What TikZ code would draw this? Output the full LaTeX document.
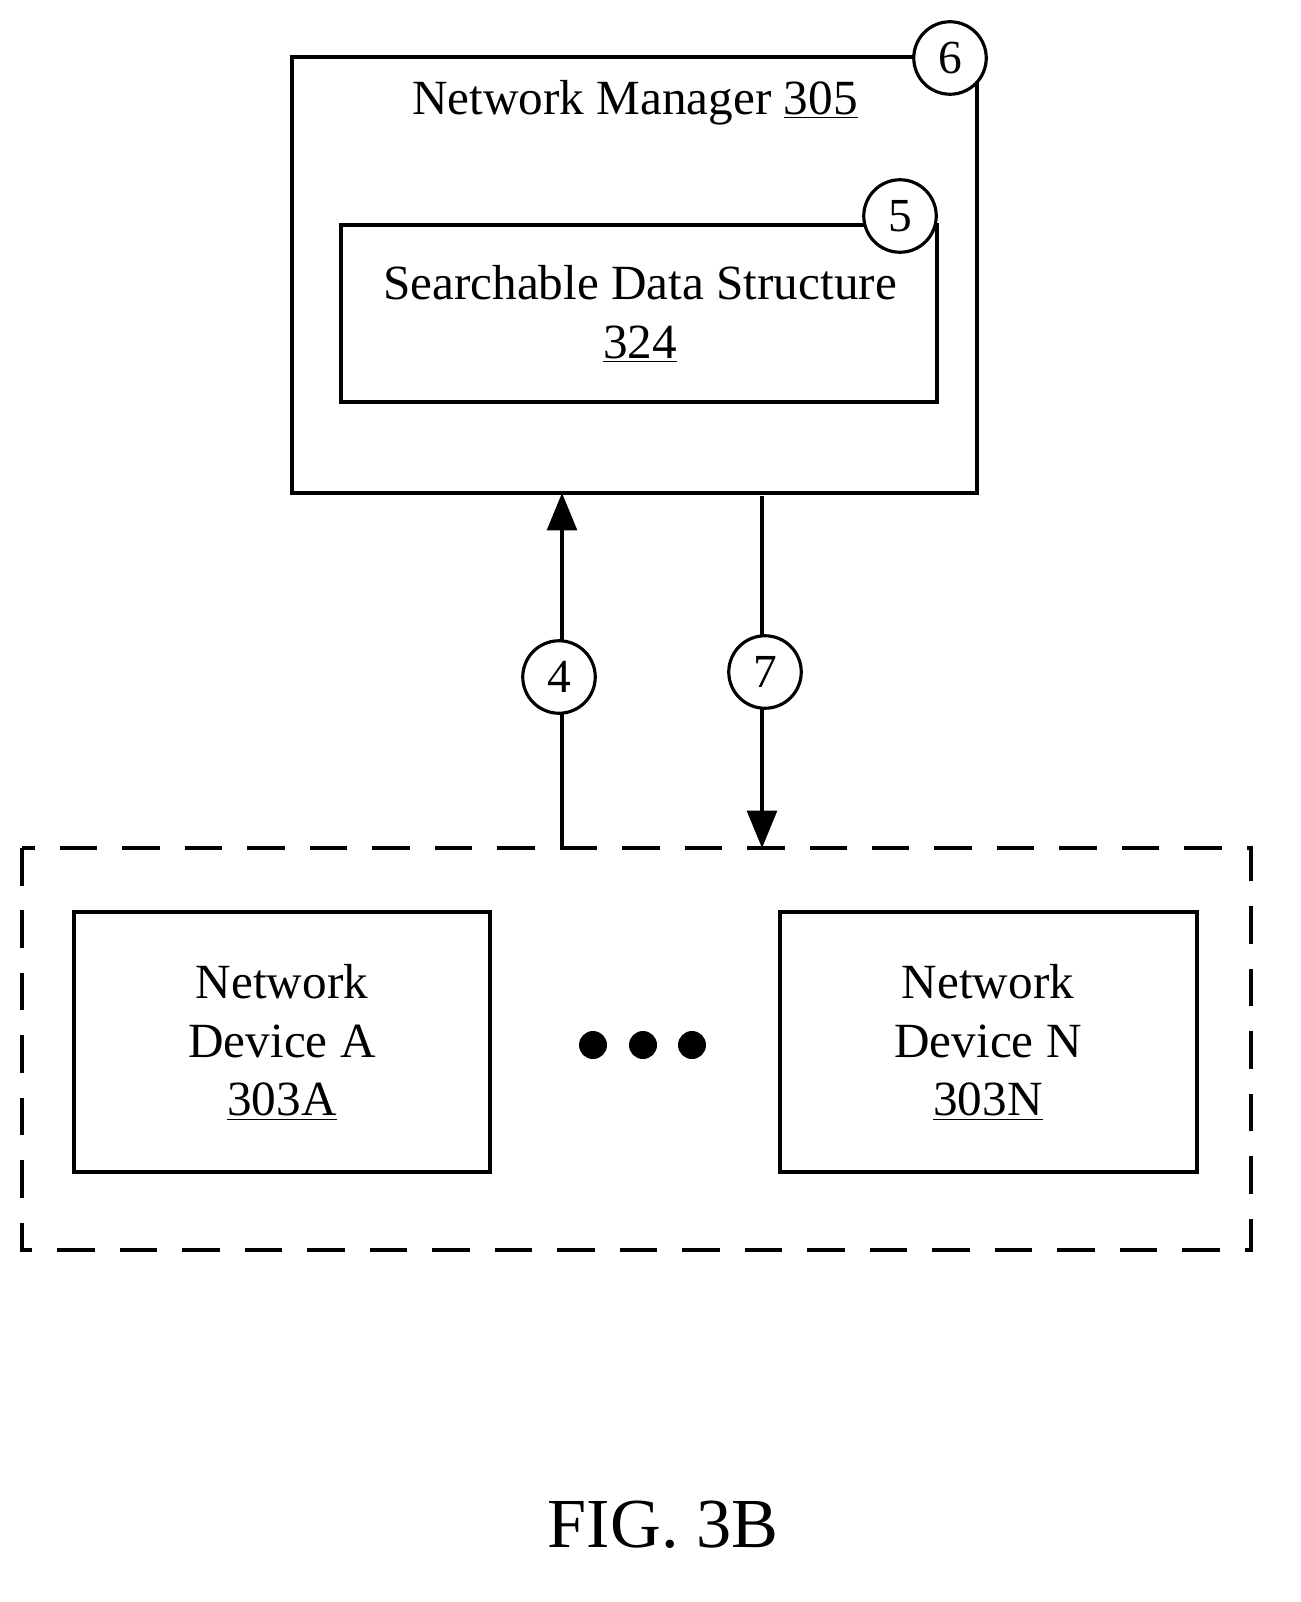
\documentclass[tikz,border=0pt]{standalone}
\usepackage{fontspec}
\setmainfont{Liberation Serif}
\usetikzlibrary{arrows.meta, positioning}
\tikzset{
	box/.style = {draw, line width=1.8pt, rectangle, inner sep=0pt},
	marker/.style = {draw, line width=1.8pt, circle, fill=white, minimum size=1.45cm, inner sep=0pt, font=\fontsize{27}{30}\selectfont},
	caption/.style = {align=center, font=\fontsize{28}{33.5}\selectfont},
	arrow/.style = {line width=1.8pt, -{Triangle[length=0.75cm, width=0.6cm]}},
}
\begin{document}
\begin{tikzpicture}[x=0.02cm, y=-0.02cm]
	\useasboundingbox (0,0) rectangle (1301,1602);
	% network manager
	\draw[box] (292,57) rectangle (977,493);
	\node (Manager) [caption] at (635,103) {Network Manager \underline{305}};
	\draw[box] (341,225) rectangle (937,402);
	\node (Structure) [caption] at (640,314) {Searchable Data Structure\\\underline{324}};
	\node (StepSix) [marker] at (950,58) {6};
	\node (StepFive) [marker] at (900,216) {5};
	% connectors
	\coordinate (UpFrom) at (562,848);
	\coordinate (UpTo) at (562,493);
	\coordinate (DownFrom) at (762,496);
	\coordinate (DownTo) at (762,848);
	\draw[arrow] (UpFrom) -- (UpTo);
	\draw[arrow] (DownFrom) -- (DownTo);
	\node (StepFour) [marker] at (559,677) {4};
	\node (StepSeven) [marker] at (765,672) {7};
	% network devices
	\draw[line width=1.8pt, dash pattern=on 0.75cm off 0.5cm] (22,848) rectangle (1251,1250);
	\draw[box] (74,912) rectangle (490,1172);
	\node (DeviceA) [caption] at (282,1042) {Network\\Device A\\\underline{303A}};
	\draw[box] (780,912) rectangle (1197,1172);
	\node (DeviceN) [caption] at (988,1042) {Network\\Device N\\\underline{303N}};
	\foreach \x in {593,643,692}
		\fill (\x,1045) circle (14);
	\node (Figure) [font=\fontsize{40}{45}\selectfont] at (663,1525) {FIG. 3B};
\end{tikzpicture}
\end{document}
